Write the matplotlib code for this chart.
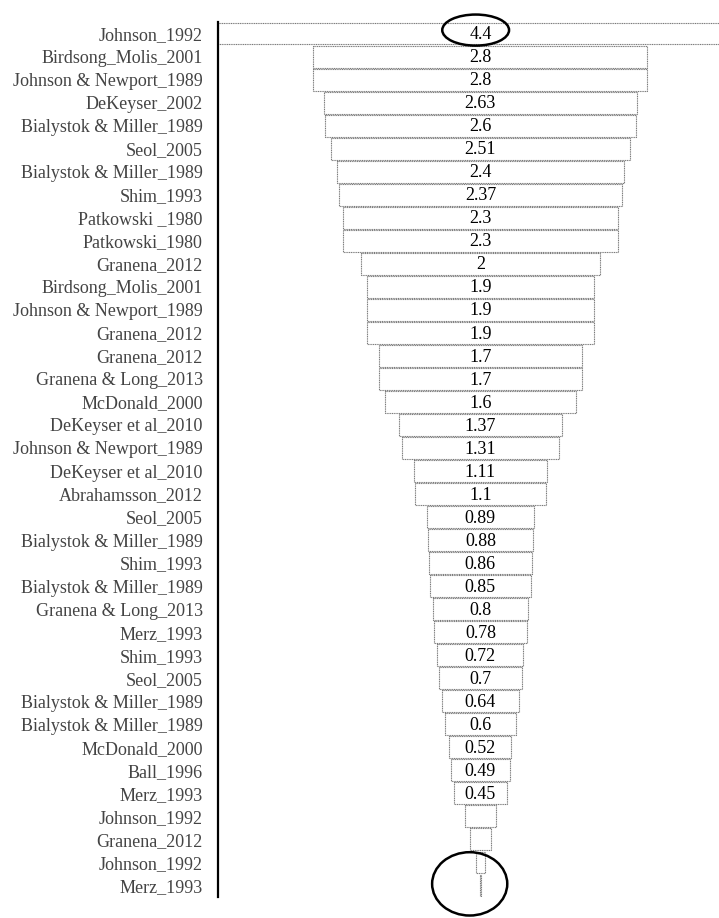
import matplotlib
matplotlib.use('Agg')
import matplotlib.pyplot as plt
from matplotlib.patches import Ellipse

# Study labels (top to bottom) and effect values
studies = [
    'Johnson_1992', 'Birdsong_Molis_2001', 'Johnson & Newport_1989', 'DeKeyser_2002',
    'Bialystok & Miller_1989', 'Seol_2005', 'Bialystok & Miller_1989', 'Shim_1993',
    'Patkowski _1980', 'Patkowski_1980', 'Granena_2012', 'Birdsong_Molis_2001',
    'Johnson & Newport_1989', 'Granena_2012', 'Granena_2012', 'Granena & Long_2013',
    'McDonald_2000', 'DeKeyser et al_2010', 'Johnson & Newport_1989', 'DeKeyser et al_2010',
    'Abrahamsson_2012', 'Seol_2005', 'Bialystok & Miller_1989', 'Shim_1993',
    'Bialystok & Miller_1989', 'Granena & Long_2013', 'Merz_1993', 'Shim_1993',
    'Seol_2005', 'Bialystok & Miller_1989', 'Bialystok & Miller_1989', 'McDonald_2000',
    'Ball_1996', 'Merz_1993', 'Johnson_1992', 'Granena_2012', 'Johnson_1992', 'Merz_1993',
]
values = [
    4.4, 2.8, 2.8, 2.63, 2.6, 2.51, 2.4, 2.37, 2.3, 2.3, 2, 1.9, 1.9, 1.9, 1.7, 1.7,
    1.6, 1.37, 1.31, 1.11, 1.1, 0.89, 0.88, 0.86, 0.85, 0.8, 0.78, 0.72, 0.7, 0.64,
    0.6, 0.52, 0.49, 0.45, 0.26, 0.17, 0.07, 0.01,
]
value_text = [
    '4.4', '2.8', '2.8', '2.63', '2.6', '2.51', '2.4', '2.37', '2.3', '2.3', '2', '1.9',
    '1.9', '1.9', '1.7', '1.7', '1.6', '1.37', '1.31', '1.11', '1.1', '0.89', '0.88',
    '0.86', '0.85', '0.8', '0.78', '0.72', '0.7', '0.64', '0.6', '0.52', '0.49', '0.45',
    '', '', '', '',
]

plt.rcParams['font.family'] = ['Liberation Serif', 'DejaVu Serif']

fig = plt.figure(figsize=(7.19, 9.18), dpi=100)
ax = fig.add_axes([0.3032, 0.0229, 0.6968, 0.9531])

rows = list(range(len(values)))
lefts = [-v / 2 for v in values]
ax.barh(rows, values, left=lefts, height=0.95, color='white',
        edgecolor='#7a7a7a', linewidth=0.8, linestyle=(0, (1, 0.6)))

for r, v, t in zip(rows, values, value_text):
    if t:
        ax.text(0, r + 0.05, t, ha='center', va='center', fontsize=13, color='black')

ax.set_xlim(-2.2, 2.0)
ax.set_ylim(len(values) - 0.5, -0.5)
ax.set_yticks(rows)
ax.set_yticklabels(studies, fontsize=13, color='#444444')
ax.tick_params(axis='y', length=0, pad=11)
ax.set_xticks([])
for side in ['top', 'right', 'bottom']:
    ax.spines[side].set_visible(False)
ax.spines['left'].set_linewidth(1.6)
ax.spines['left'].set_color('black')

# highlight circles (top and bottom of funnel)
ax.add_patch(Ellipse((-0.04, -0.15), 0.56, 1.35, fill=False, edgecolor='black',
                     linewidth=1.8, clip_on=False))
ax.add_patch(Ellipse((-0.09, 36.93), 0.63, 2.75, fill=False, edgecolor='black',
                     linewidth=1.8, clip_on=False))

fig.savefig('out.png', dpi=100)
